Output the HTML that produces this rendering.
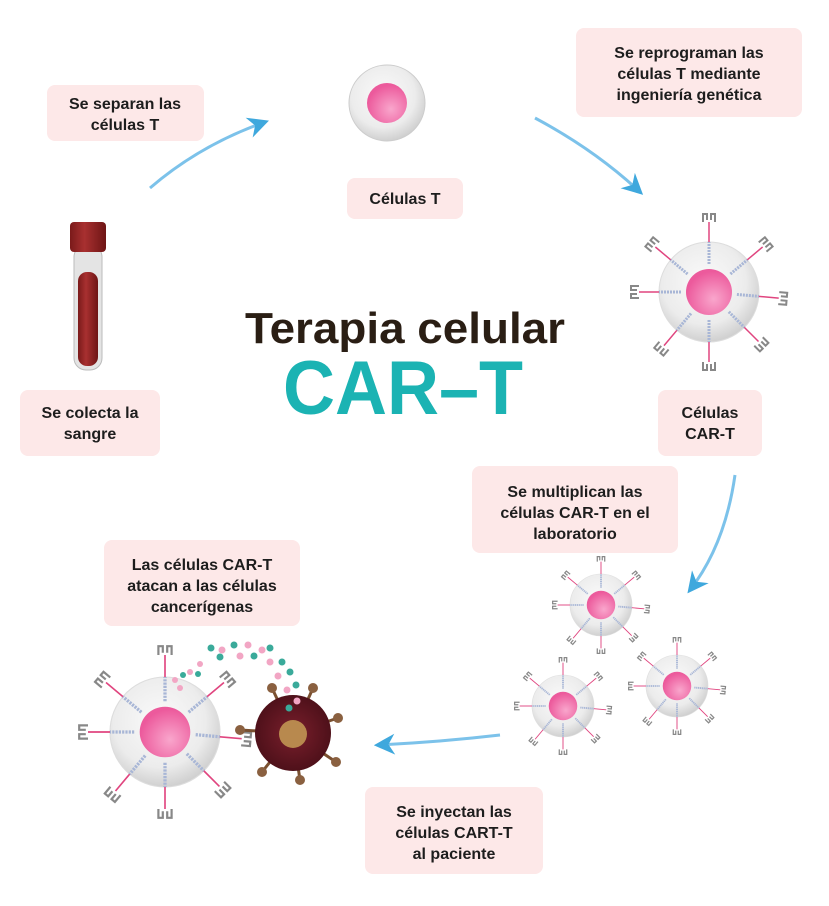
<!DOCTYPE html>
<html><head><meta charset="utf-8"><style>
body{margin:0;background:#fff;}
svg{display:block;font-family:"Liberation Sans",sans-serif;}
.lb{fill:#fde8e8;}
.t{font-size:16px;font-weight:bold;fill:#1d1d1d;text-anchor:middle;}
</style></head><body>
<svg width="829" height="906" viewBox="0 0 829 906" xmlns="http://www.w3.org/2000/svg">
<defs>
<radialGradient id="cellg" cx="45%" cy="40%" r="60%"><stop offset="0" stop-color="#fafafa"/><stop offset="0.7" stop-color="#ececec"/><stop offset="1" stop-color="#d0d0d0"/></radialGradient>
<radialGradient id="nucg" cx="60%" cy="65%" r="60%"><stop offset="0" stop-color="#f9a6cc"/><stop offset="1" stop-color="#ec5a9c"/></radialGradient>
<radialGradient id="canc" cx="50%" cy="50%" r="55%"><stop offset="0" stop-color="#7a1f2c"/><stop offset="1" stop-color="#4a0f18"/></radialGradient>
<linearGradient id="tube" x1="0" x2="1"><stop offset="0" stop-color="#7a1a1a"/><stop offset="0.4" stop-color="#a83030"/><stop offset="1" stop-color="#6e1515"/></linearGradient>
<marker id="ah" viewBox="0 0 10 10" refX="8" refY="5" markerWidth="7" markerHeight="7" orient="auto"><path d="M0,0 L10,5 L0,10 L3,5z" fill="#3fa8dd"/></marker>
<g id="rec">
  <line x1="0" y1="0" x2="22" y2="0" stroke="#a8b6d6" stroke-width="3" stroke-dasharray="2 1"/>
  <line x1="22" y1="0" x2="42" y2="0" stroke="#e0457f" stroke-width="1.5"/>
  <path d="M42,-6 h8 v4 h-6 M42,6 h8 v-4 h-6" fill="none" stroke="#888" stroke-width="2"/>
</g>
<g id="cart">
  <circle r="50" fill="url(#cellg)" stroke="#ddd"/>
  <circle r="23" fill="url(#nucg)"/>
  <use href="#rec" transform="rotate(-90) translate(28)"/>
  <use href="#rec" transform="rotate(-40) translate(28)"/>
  <use href="#rec" transform="rotate(5) translate(28)"/>
  <use href="#rec" transform="rotate(45) translate(28)"/>
  <use href="#rec" transform="rotate(90) translate(28)"/>
  <use href="#rec" transform="rotate(130) translate(28)"/>
  <use href="#rec" transform="rotate(180) translate(28)"/>
  <use href="#rec" transform="rotate(-140) translate(28)"/>
</g>
</defs>

<!-- arrows -->
<path d="M150,188 Q200,145 265,122" fill="none" stroke="#7cc2ea" stroke-width="3" marker-end="url(#ah)"/>
<path d="M535,118 Q595,150 640,192" fill="none" stroke="#7cc2ea" stroke-width="3" marker-end="url(#ah)"/>
<path d="M735,475 Q725,545 690,590" fill="none" stroke="#7cc2ea" stroke-width="3" marker-end="url(#ah)"/>
<path d="M500,735 Q440,742 378,745" fill="none" stroke="#7cc2ea" stroke-width="3" marker-end="url(#ah)"/>

<!-- labels -->
<rect class="lb" x="47" y="85" width="157" height="56" rx="8"/>
<text class="t" x="125" y="109">Se separan las</text><text class="t" x="125" y="130">células T</text>
<rect class="lb" x="347" y="178" width="116" height="41" rx="8"/>
<text class="t" x="405" y="204">Células T</text>
<rect class="lb" x="576" y="28" width="226" height="89" rx="8"/>
<text class="t" x="689" y="58">Se reprograman las</text><text class="t" x="689" y="79">células T mediante</text><text class="t" x="689" y="100">ingeniería genética</text>
<rect class="lb" x="658" y="390" width="104" height="66" rx="8"/>
<text class="t" x="710" y="418">Células</text><text class="t" x="710" y="439">CAR-T</text>
<rect class="lb" x="472" y="466" width="206" height="87" rx="8"/>
<text class="t" x="575" y="497">Se multiplican las</text><text class="t" x="575" y="518">células CAR-T en el</text><text class="t" x="575" y="539">laboratorio</text>
<rect class="lb" x="104" y="540" width="196" height="86" rx="8"/>
<text class="t" x="202" y="570">Las células CAR-T</text><text class="t" x="202" y="591">atacan a las células</text><text class="t" x="202" y="612">cancerígenas</text>
<rect class="lb" x="20" y="390" width="140" height="66" rx="8"/>
<text class="t" x="90" y="418">Se colecta la</text><text class="t" x="90" y="439">sangre</text>
<rect class="lb" x="365" y="787" width="178" height="87" rx="8"/>
<text class="t" x="454" y="817">Se inyectan las</text><text class="t" x="454" y="838">células CART-T</text><text class="t" x="454" y="859">al paciente</text>

<!-- title -->
<text x="405" y="343" text-anchor="middle" font-size="44" font-weight="bold" fill="#2a1e14" textLength="320" lengthAdjust="spacingAndGlyphs">Terapia celular</text>
<text x="403" y="414" text-anchor="middle" font-size="76" font-weight="bold" fill="#1bb3b3" textLength="240" lengthAdjust="spacingAndGlyphs">CAR–T</text>

<!-- T cell -->
<circle cx="387" cy="103" r="38" fill="url(#cellg)" stroke="#ccc"/>
<circle cx="387" cy="103" r="20" fill="url(#nucg)"/>

<!-- tube -->
<rect x="74" y="245" width="28" height="125" rx="12" fill="#e4e4e4" stroke="#bbb"/>
<rect x="78" y="272" width="20" height="94" rx="9" fill="url(#tube)"/>
<rect x="70" y="222" width="36" height="30" rx="4" fill="url(#tube)"/>

<!-- CAR-T cells -->
<use href="#cart" transform="translate(709,292)"/>
<use href="#cart" transform="translate(601,605) scale(0.62)"/>
<use href="#cart" transform="translate(563,706) scale(0.62)"/>
<use href="#cart" transform="translate(677,686) scale(0.62)"/>
<use href="#cart" transform="translate(165,732) scale(1.1)"/>

<!-- cancer cell -->
<g stroke="#7a5030" stroke-width="3">
<line x1="293" y1="733" x2="240" y2="730"/><line x1="293" y1="733" x2="272" y2="688"/><line x1="293" y1="733" x2="313" y2="688"/>
<line x1="293" y1="733" x2="338" y2="718"/><line x1="293" y1="733" x2="336" y2="762"/><line x1="293" y1="733" x2="300" y2="780"/><line x1="293" y1="733" x2="262" y2="772"/>
</g>
<g fill="#8a6040">
<circle cx="240" cy="730" r="5"/><circle cx="272" cy="688" r="5"/><circle cx="313" cy="688" r="5"/><circle cx="338" cy="718" r="5"/><circle cx="336" cy="762" r="5"/><circle cx="300" cy="780" r="5"/><circle cx="262" cy="772" r="5"/>
</g>
<circle cx="293" cy="733" r="38" fill="url(#canc)"/>
<circle cx="293" cy="734" r="14" fill="#b8894e"/>

<!-- particles -->
<g fill="#f2a6c4">
<circle cx="175" cy="680" r="3"/><circle cx="190" cy="672" r="3"/><circle cx="200" cy="664" r="3"/><circle cx="222" cy="650" r="3.5"/><circle cx="248" cy="645" r="3.5"/><circle cx="262" cy="650" r="3.5"/><circle cx="270" cy="662" r="3.5"/><circle cx="278" cy="676" r="3.5"/><circle cx="287" cy="690" r="3.5"/><circle cx="297" cy="701" r="3.5"/><circle cx="180" cy="688" r="3"/><circle cx="240" cy="656" r="3.5"/>
</g>
<g fill="#3aaa9a">
<circle cx="183" cy="675" r="3"/><circle cx="198" cy="674" r="3"/><circle cx="211" cy="648" r="3.5"/><circle cx="234" cy="645" r="3.5"/><circle cx="220" cy="657" r="3.5"/><circle cx="254" cy="656" r="3.5"/><circle cx="270" cy="648" r="3.5"/><circle cx="290" cy="672" r="3.5"/><circle cx="296" cy="685" r="3.5"/><circle cx="289" cy="708" r="3.5"/><circle cx="282" cy="662" r="3.5"/>
</g>
</svg>
</body></html>
